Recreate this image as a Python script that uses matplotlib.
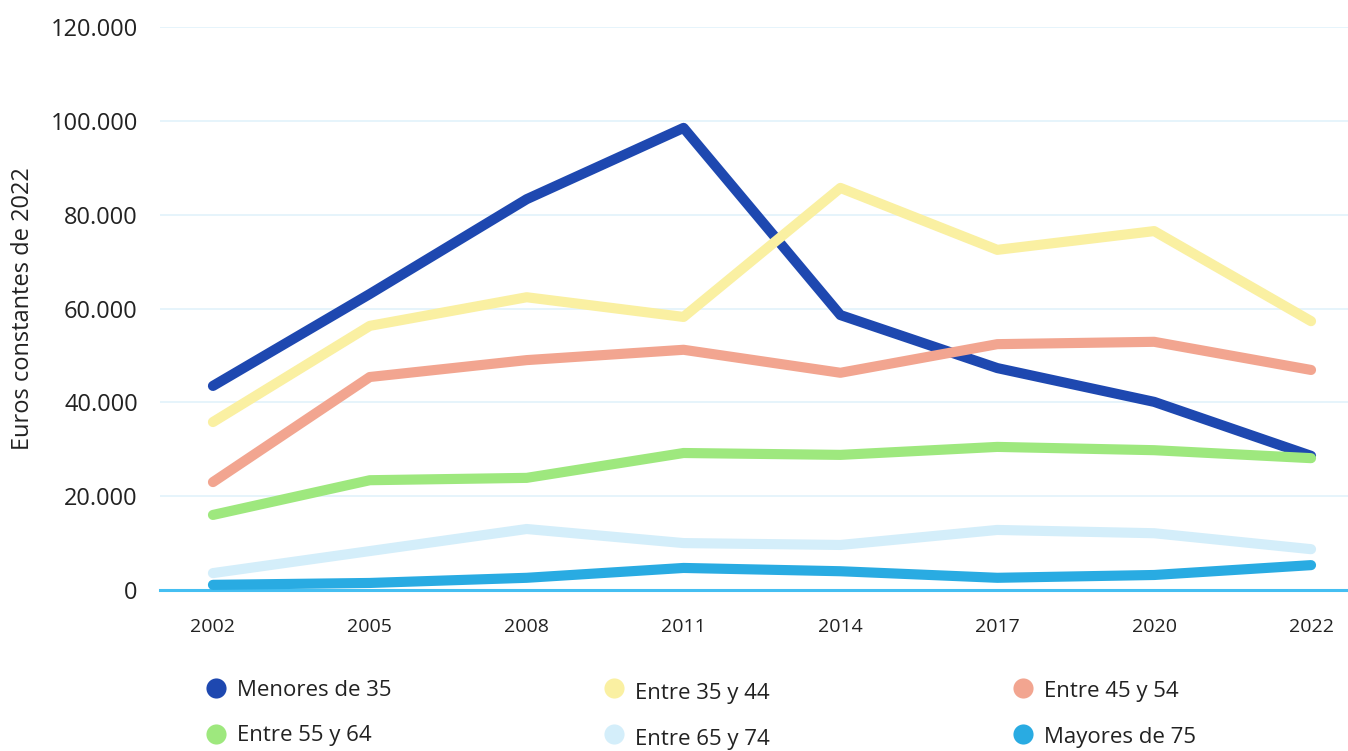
import matplotlib.pyplot as plt
from matplotlib.ticker import FuncFormatter

plt.rcParams['font.family'] = ['Open Sans', 'DejaVu Sans']

years = ['2002', '2005', '2008', '2011', '2014', '2017', '2020', '2022']

menores_35 = [43500, 63100, 83300, 98500, 58600, 47300, 40100, 28600]
entre_35_44 = [35800, 56300, 62400, 58200, 85700, 72500, 76500, 57300]
entre_45_54 = [23000, 45400, 49000, 51200, 46300, 52400, 52900, 46900]
entre_55_64 = [16000, 23400, 23900, 29200, 28800, 30500, 29800, 28100]
entre_65_74 = [3600, 8300, 13000, 10000, 9600, 12800, 12100, 8700]
mayores_75 = [1100, 1500, 2600, 4700, 4000, 2600, 3200, 5300]

series = [
    ('Menores de 35', menores_35, '#1e48b0'),
    ('Entre 35 y 44', entre_35_44, '#faf0a2'),
    ('Entre 45 y 54', entre_45_54, '#f2a590'),
    ('Entre 55 y 64', entre_55_64, '#9ee87e'),
    ('Entre 65 y 74', entre_65_74, '#d4eefa'),
    ('Mayores de 75', mayores_75, '#29abe2'),
]

W, H = 1348, 751
fig = plt.figure(figsize=(W / 100, H / 100), dpi=100)
ax = fig.add_axes([160 / W, 1 - 590 / H, 1 - 160 / W, (590 - 27) / H])

x = list(range(len(years)))
for name, vals, color in series:
    ax.plot(x, vals, color=color, lw=7.3, solid_capstyle='round',
            solid_joinstyle='round', clip_on=False, label=name, zorder=3)

step = 157
ax.set_xlim(-(213 - 160) / step, 7 + (1348 - 1311) / step)
ax.set_ylim(0, 120000)
ax.set_yticks(range(0, 120001, 20000))
ax.yaxis.set_major_formatter(FuncFormatter(lambda v, p: f'{int(v):,}'.replace(',', '.')))
ax.set_xticks(x)
ax.set_xticklabels(years)

ax.grid(axis='y', color='#e2f2fb', lw=1.2)
ax.set_axisbelow(True)
for s in ax.spines.values():
    s.set_visible(False)
ax.axhline(0, color='#45bff2', lw=2.2, zorder=2, clip_on=False)
ax.tick_params(axis='y', length=0, pad=16, labelsize=17, labelcolor='#222222')
ax.tick_params(axis='x', length=0, pad=20, labelsize=14, labelcolor='#222222')
ax.set_ylabel('Euros constantes de 2022', fontsize=17, color='#222222', labelpad=11)

# legend laid out in a grid under the chart
leg = fig.add_axes([0, 0, 1, 1], facecolor='none')
leg.set_xlim(0, W)
leg.set_ylim(H, 0)
leg.axis('off')
col_x = [216, 614, 1023]
row_y = [688, 734]
text_dy = [2, 6, 3]
for i, (name, vals, color) in enumerate(series):
    cx = col_x[i % 3]
    cy = row_y[i // 3]
    leg.plot(cx, cy, 'o', ms=14.5, color=color, mec='none')
    leg.text(cx + 21, cy + text_dy[i % 3], name, fontsize=16, color='#222222',
             va='center', ha='left')

fig.savefig('out.png', dpi=100)
